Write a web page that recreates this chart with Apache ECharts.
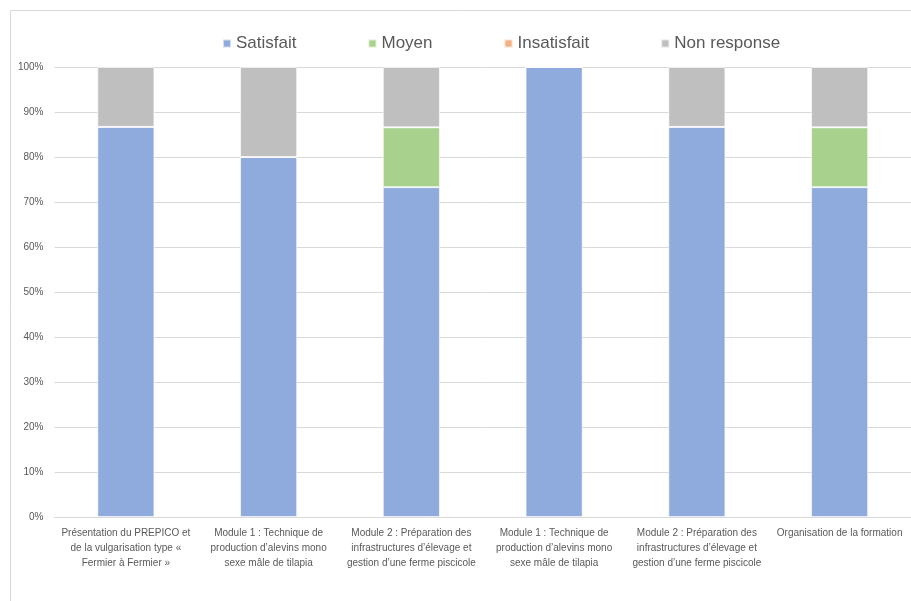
<!DOCTYPE html>
<html>
<head>
<meta charset="utf-8">
<style>
  html, body { margin: 0; padding: 0; background: #ffffff; }
  #chart { width: 911px; height: 601px; }
</style>
<script src="https://cdn.jsdelivr.net/npm/echarts@6/dist/echarts.min.js"></script>
</head>
<body>
<div id="chart"></div>
<script>
// Training modules evaluated by participants (15 respondents, shares in %)
const categories = [
  "Présentation du PREPICO et\nde la vulgarisation type «\nFermier à Fermier »",
  "Module 1 : Technique de\nproduction d’alevins mono\nsexe mâle de tilapia",
  "Module 2 : Préparation des\ninfrastructures d’élevage et\ngestion d’une ferme piscicole",
  "Module 1 : Technique de\nproduction d’alevins mono\nsexe mâle de tilapia",
  "Module 2 : Préparation des\ninfrastructures d’élevage et\ngestion d’une ferme piscicole",
  "Organisation de la formation"
];
const satisfait   = [86.7, 80.0, 73.3, 100.0, 86.7, 73.3];
const moyen       = [0, 0, 13.3, 0, 0, 13.3];
const insatisfait = [0, 0, 0, 0, 0, 0];
const nonResponse = [13.3, 20.0, 13.4, 0, 13.3, 13.4];

const seriesNames  = ["Satisfait", "Moyen", "Insatisfait", "Non response"];
const seriesColors = ["#8FAADC", "#A9D18E", "#F4B183", "#BFBFBF"];
const seriesData   = [satisfait, moyen, insatisfait, nonResponse];

const textColor = "#595959";
const gridColor = "#d9d9d9";
const fontFamily = "'Liberation Sans', Arial, sans-serif";

const chart = echarts.init(document.getElementById("chart"), null, { renderer: "canvas" });

chart.setOption({
  animation: false,
  backgroundColor: "#ffffff",
  textStyle: { fontFamily: fontFamily },
  graphic: [{
    type: "rect",
    silent: true,
    shape: { x: 10.5, y: 10.5, width: 1000, height: 1000 },
    style: { fill: "none", stroke: gridColor, lineWidth: 1 }
  }],
  legend: {
    top: 30,
    left: 217,
    itemWidth: 8,
    itemHeight: 8,
    itemGap: 71,
    icon: "rect",
    textStyle: { color: textColor, fontSize: 17, fontFamily: fontFamily },
    data: seriesNames
  },
  grid: {
    left: 54.5,
    right: -1.5,
    top: 67,
    bottom: 84
  },
  xAxis: {
    type: "category",
    data: categories,
    axisLine: { show: true, lineStyle: { color: gridColor, width: 1 } },
    axisTick: { show: false },
    axisLabel: {
      interval: 0,
      color: textColor,
      fontSize: 10,
      lineHeight: 15,
      margin: 9,
      fontFamily: fontFamily
    }
  },
  yAxis: {
    type: "value",
    min: 0,
    max: 100,
    interval: 10,
    axisLine: { show: false },
    axisTick: { show: false },
    splitLine: { lineStyle: { color: gridColor, width: 1 } },
    axisLabel: {
      formatter: "{value}%",
      color: textColor,
      fontSize: 10,
      margin: 11,
      fontFamily: fontFamily
    }
  },
  series: seriesNames.map((name, i) => ({
    name: name,
    type: "bar",
    stack: "total",
    barWidth: "40%",
    data: seriesData[i],
    itemStyle: {
      color: seriesColors[i],
      borderColor: "rgba(255,255,255,0.6)",
      borderWidth: 1
    }
  }))
});
</script>
</body>
</html>
